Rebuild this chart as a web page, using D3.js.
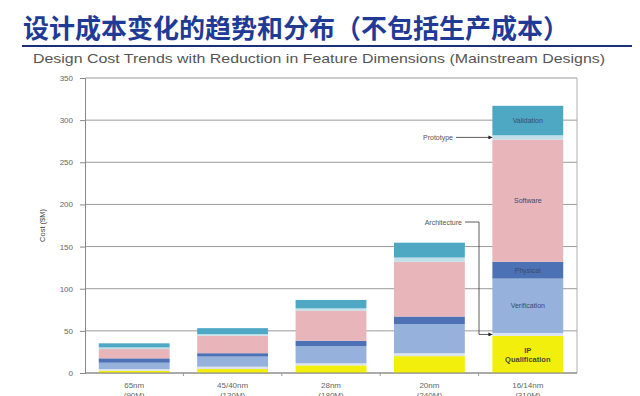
<!DOCTYPE html>
<html>
<head>
<meta charset="utf-8">
<script src="https://cdn.jsdelivr.net/npm/d3@7"></script>
<style>
  body { margin: 0; background: #fff; }
  svg { display: block; }
  .tick text { font-family: "Liberation Sans", Arial, sans-serif; fill: #666; font-size: 8px; }
</style>
</head>
<body>
<div id="chart"></div>
<script>
// data ($M)
var nodes = ["65nm", "45/40nm", "28nm", "20nm", "16/14nm"];
var nodeSub = ["(90M)", "(130M)", "(180M)", "(240M)", "(310M)"];
var ipQual = [2.7, 4.7, 9, 20, 44];
var architecture = [2, 2.8, 2.5, 3.5, 3.5];
var verification = [7.5, 12, 20.5, 34.5, 64.5];
var physical = [5.2, 4, 6.3, 9, 20];
var software = [11, 20.7, 35.7, 65, 145];
var prototype = [2, 2, 2.7, 5, 5];
var validation = [4.8, 7, 10, 17.6, 35];
var yTicks = [0, 50, 100, 150, 200, 250, 300, 350];

var seriesNames = ["IP Qualification", "Architecture", "Verification", "Physical", "Software", "Prototype", "Validation"];
var seriesVals = [ipQual, architecture, verification, physical, software, prototype, validation];
var colors = ["#f3ef0c", "#dbe3ee", "#95b1dc", "#4c72b5", "#e8b5bb", "#bfe0e8", "#4ea8c4"];

var width = 640, height = 396;
var margin = {left: 85, right: 63, top: 78, bottom: 23};

var svg = d3.select("#chart").append("svg")
    .attr("width", width)
    .attr("height", height);

// title block
svg.append("text")
    .attr("x", 23).attr("y", 38)
    .style("font-family", "'Noto Sans CJK SC', sans-serif")
    .style("font-weight", "bold")
    .style("font-size", "26px")
    .style("fill", "#1f3b96")
    .text("设计成本变化的趋势和分布（不包括生产成本）");

svg.append("line")
    .attr("x1", 22).attr("x2", 632)
    .attr("y1", 46).attr("y2", 46)
    .attr("stroke", "#1c2f7a")
    .attr("stroke-width", 2);

svg.append("text")
    .attr("x", 33).attr("y", 63)
    .style("font-family", "'Liberation Sans', Arial, sans-serif")
    .style("font-size", "13.5px")
    .style("fill", "#555")
    .attr("textLength", 572)
    .attr("lengthAdjust", "spacingAndGlyphs")
    .text("Design Cost Trends with Reduction in Feature Dimensions (Mainstream Designs)");

// scales
var x = d3.scaleBand()
    .domain(nodes)
    .range([margin.left, width - margin.right])
    .paddingInner(0.28)
    .paddingOuter(0.14);

var y = d3.scaleLinear()
    .domain([0, 350])
    .range([height - margin.bottom, margin.top]);

// grid
svg.append("g")
    .selectAll("line")
    .data(yTicks)
    .enter()
    .append("line")
    .attr("x1", margin.left).attr("x2", width - margin.right)
    .attr("y1", d => y(d)).attr("y2", d => y(d))
    .attr("stroke", "#9a9a9a")
    .attr("stroke-width", 1);

svg.append("line")
    .attr("x1", width - margin.right).attr("x2", width - margin.right)
    .attr("y1", y(350)).attr("y2", y(0))
    .attr("stroke", "#b0b0b0");

// stacked bars
var table = nodes.map(function(n, i) {
    var row = {node: n};
    seriesNames.forEach(function(s, j) { row[s] = seriesVals[j][i]; });
    return row;
});
var stacked = d3.stack().keys(seriesNames)(table);

svg.append("g")
    .selectAll("g")
    .data(stacked)
    .enter()
    .append("g")
    .attr("fill", (d, i) => colors[i])
    .selectAll("rect")
    .data(d => d)
    .enter()
    .append("rect")
    .attr("x", d => x(d.data.node))
    .attr("y", d => y(d[1]))
    .attr("width", x.bandwidth())
    .attr("height", d => y(d[0]) - y(d[1]));

// axes
var yAxis = d3.axisLeft(y).tickValues(yTicks).tickSize(5).tickPadding(7);
var gy = svg.append("g")
    .attr("transform", `translate(${margin.left},0)`)
    .call(yAxis);
gy.select(".domain").attr("stroke", "#888");
gy.selectAll(".tick line").attr("stroke", "#888");

svg.append("line")
    .attr("x1", margin.left).attr("x2", width - margin.right)
    .attr("y1", y(0)).attr("y2", y(0))
    .attr("stroke", "#888");

// small ticks between the bars
var step = x.step();
svg.append("g")
    .selectAll("line")
    .data(nodes.slice(1))
    .enter()
    .append("line")
    .attr("x1", d => x(d) - (step - x.bandwidth()) / 2)
    .attr("x2", d => x(d) - (step - x.bandwidth()) / 2)
    .attr("y1", y(0)).attr("y2", y(0) + 3)
    .attr("stroke", "#999");

var xl = svg.append("g")
    .style("font-family", "'Liberation Sans', Arial, sans-serif")
    .style("font-size", "8px")
    .style("fill", "#666")
    .attr("text-anchor", "middle");
xl.selectAll(".l1").data(nodes).enter().append("text")
    .attr("x", d => x(d) + x.bandwidth() / 2)
    .attr("y", y(0) + 15)
    .text(d => d);
xl.selectAll(".l2").data(nodes).enter().append("text")
    .attr("x", (d, i) => x(nodes[i]) + x.bandwidth() / 2)
    .attr("y", y(0) + 25)
    .text((d, i) => nodeSub[i]);

svg.append("text")
    .attr("transform", `translate(45,${y(175)}) rotate(-90)`)
    .attr("text-anchor", "middle")
    .style("font-family", "'Liberation Sans', Arial, sans-serif")
    .style("font-size", "7.5px")
    .style("fill", "#444")
    .text("Cost ($M)");

// segment labels in the last bar
var last = nodes.length - 1;
var cx = x(nodes[last]) + x.bandwidth() / 2;
var inBar = [["Validation", 6], ["Software", 4], ["Physical", 3], ["Verification", 2]];
inBar.forEach(function(p) {
    var seg = stacked[p[1]][last];
    svg.append("text")
        .attr("x", cx)
        .attr("y", (y(seg[0]) + y(seg[1])) / 2 + 2.5)
        .attr("text-anchor", "middle")
        .style("font-family", "'Liberation Sans', Arial, sans-serif")
        .style("font-size", "7px")
        .style("fill", "#3a4a6e")
        .text(p[0]);
});
var ipSeg = stacked[0][last];
var ipMid = (y(ipSeg[0]) + y(ipSeg[1])) / 2;
["IP", "Qualification"].forEach(function(t, k) {
    svg.append("text")
        .attr("x", cx)
        .attr("y", ipMid - 1 + k * 9)
        .attr("text-anchor", "middle")
        .style("font-family", "'Liberation Sans', Arial, sans-serif")
        .style("font-size", "7.5px")
        .style("font-weight", "bold")
        .style("fill", "#4a4a2a")
        .text(t);
});

// callouts
svg.append("defs").append("marker")
    .attr("id", "arr")
    .attr("viewBox", "0 0 6 6")
    .attr("refX", 6).attr("refY", 3)
    .attr("markerWidth", 5).attr("markerHeight", 5)
    .attr("orient", "auto")
    .append("path")
    .attr("d", "M0,0L6,3L0,6Z")
    .attr("fill", "#222");

var barLeft = x(nodes[last]);
var protoSeg = stacked[5][last];
var protoY = (y(protoSeg[0]) + y(protoSeg[1])) / 2;
var archSeg = stacked[1][last];
var archY = (y(archSeg[0]) + y(archSeg[1])) / 2;

var cap = svg.append("g")
    .style("font-family", "'Liberation Sans', Arial, sans-serif")
    .style("font-size", "7px")
    .style("fill", "#555");
cap.append("text").attr("x", 453).attr("y", protoY + 2.5).attr("text-anchor", "end").text("Prototype");
cap.append("text").attr("x", 462).attr("y", 224.5).attr("text-anchor", "end").text("Architecture");

svg.append("path")
    .attr("d", `M456,${protoY}H${barLeft}`)
    .attr("fill", "none").attr("stroke", "#333").attr("stroke-width", 0.8)
    .attr("marker-end", "url(#arr)");
svg.append("path")
    .attr("d", `M465,222H479V${archY}H${barLeft}`)
    .attr("fill", "none").attr("stroke", "#333").attr("stroke-width", 0.8)
    .attr("marker-end", "url(#arr)");
</script>
</body>
</html>
